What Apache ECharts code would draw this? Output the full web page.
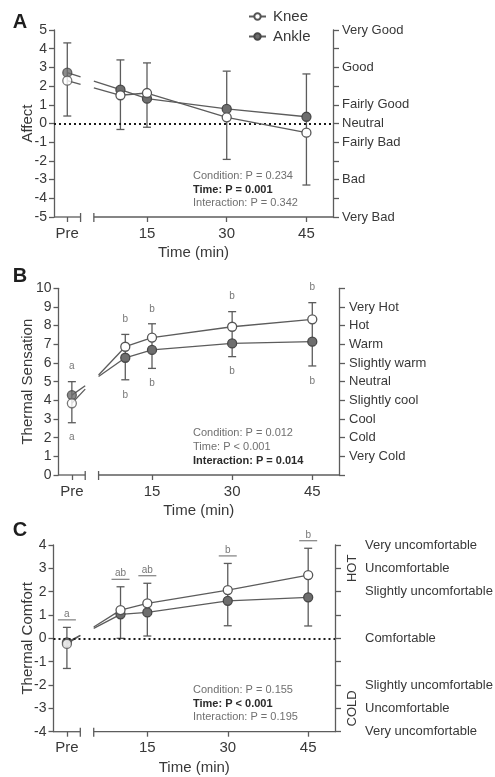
<!DOCTYPE html>
<html>
<head>
<meta charset="utf-8">
<script src="https://cdn.jsdelivr.net/npm/echarts@6/dist/echarts.min.js"></script>
<style>
html, body { margin: 0; padding: 0; background: #fff; }
#chart { width: 495px; height: 777px; }
</style>
</head>
<body>
<div id="chart"></div>
<script>
// time points in minutes, 0 = Pre
const times = [0, 10, 15, 30, 45]
const xTickValues = [0, 15, 30, 45]
const xTickLabels = ['Pre', '15', '30', '45']

// A - affect
const kneeAffect = [2.29, 1.51, 1.63, 0.33, -0.49]
const ankleAffect = [2.72, 1.81, 1.33, 0.78, 0.36]
const affectBarTop = [4.31, 3.40, 3.24, 2.80, 2.65]
const affectBarBottom = [0.40, -0.32, -0.20, -1.92, -3.29]
const affectScaleValues = [5, 3, 1, 0, -1, -3, -5]
const affectScaleLabels = ['Very Good', 'Good', 'Fairly Good', 'Neutral', 'Fairly Bad', 'Bad', 'Very Bad']
const affectStats = ['Condition: P = 0.234', 'Time: P = 0.001', 'Interaction: P = 0.342']

// B - thermal sensation
const kneeSensation = [3.84, 6.87, 7.36, 7.94, 8.34]
const ankleSensation = [4.28, 6.28, 6.70, 7.05, 7.14]
const sensationBarTop = [5.00, 7.53, 8.10, 8.75, 9.23]
const sensationBarBottom = [2.80, 5.10, 5.71, 6.34, 5.84]
const sensationLettersKnee = ['a', 'b', 'b', 'b', 'b']
const sensationLettersAnkle = ['a', 'b', 'b', 'b', 'b']
const sensationScaleValues = [9, 8, 7, 6, 5, 4, 3, 2, 1]
const sensationScaleLabels = ['Very Hot', 'Hot', 'Warm', 'Slightly warm', 'Neutral', 'Slightly cool', 'Cool', 'Cold', 'Very Cold']
const sensationStats = ['Condition: P = 0.012', 'Time: P < 0.001', 'Interaction: P = 0.014']

// C - thermal comfort
const kneeComfort = [-0.24, 1.21, 1.50, 2.07, 2.71]
const ankleComfort = [-0.17, 1.03, 1.11, 1.61, 1.76]
const comfortBarTop = [0.47, 2.21, 2.36, 3.21, 3.86]
const comfortBarBottom = [-1.29, 0.00, 0.10, 0.54, 0.53]
const comfortLetters = ['a', 'ab', 'ab', 'b', 'b']
const comfortScaleValues = [4, 3, 2, 0, -2, -3, -4]
const comfortScaleLabels = ['Very uncomfortable', 'Uncomfortable', 'Slightly uncomfortable', 'Comfortable', 'Slightly uncomfortable', 'Uncomfortable', 'Very uncomfortable']
const comfortStats = ['Condition: P = 0.155', 'Time: P < 0.001', 'Interaction: P = 0.195']

const fontFamily = '"Liberation Sans", Arial, sans-serif'
const axisColor = '#5c5c5c'
const textColor = '#383838'
const xMin = -2.5
const xMax = 50
const gapStart = 2.5 // broken x axis
const gapEnd = 5

const panels = [
  {
    letter: 'A', grid: { left: 54, top: 30, width: 279, height: 187 }, min: -5, max: 5,
    name: 'Affect', nameGap: 19, knee: kneeAffect, ankle: ankleAffect,
    top: affectBarTop, bottom: affectBarBottom,
    scaleValues: affectScaleValues, scaleLabels: affectScaleLabels, scaleMargin: 9,
    zeroLine: true, stats: affectStats, bold: 1, statsY: 176
  },
  {
    letter: 'B', grid: { left: 58.5, top: 288.3, width: 280.5, height: 186.7 }, min: 0, max: 10,
    name: 'Thermal Sensation', nameGap: 23.5, knee: kneeSensation, ankle: ankleSensation,
    top: sensationBarTop, bottom: sensationBarBottom,
    lettersAbove: sensationLettersKnee, lettersBelow: sensationLettersAnkle,
    scaleValues: sensationScaleValues, scaleLabels: sensationScaleLabels, scaleMargin: 10,
    zeroLine: false, stats: sensationStats, bold: 2, statsY: 433.3
  },
  {
    letter: 'C', grid: { left: 53.5, top: 545, width: 281.5, height: 186.7 }, min: -4, max: 4,
    name: 'Thermal Comfort', nameGap: 18.5, knee: kneeComfort, ankle: ankleComfort,
    top: comfortBarTop, bottom: comfortBarBottom, underlined: comfortLetters,
    scaleValues: comfortScaleValues, scaleLabels: comfortScaleLabels, scaleMargin: 30,
    zeroLine: true, stats: comfortStats, bold: 1, statsY: 690
  }
]

const lineStyle = { stroke: axisColor, lineWidth: 1.3 }
const kneeItem = { color: '#ffffff', borderColor: '#555555', borderWidth: 1.3 }
const ankleItem = { color: '#6e6e6e', borderColor: '#474747', borderWidth: 1.3 }

function letterText (text, x, y) {
  return {
    type: 'text',
    style: { text: text, x: x, y: y, fill: '#777', font: '10px ' + fontFamily, textAlign: 'center', textVerticalAlign: 'middle' }
  }
}

function errorBars (gi, p) {
  return {
    type: 'custom', xAxisIndex: gi, yAxisIndex: gi * 2, z: 2, silent: true,
    encode: { x: 0, y: [1, 2] },
    data: times.map((t, i) => [t, p.bottom[i], p.top[i]]),
    renderItem: function (params, api) {
      const i = params.dataIndex
      const hi = api.coord([api.value(0), api.value(2)])
      const lo = api.coord([api.value(0), api.value(1)])
      const x = hi[0]
      const kids = [
        { type: 'line', shape: { x1: x, y1: hi[1], x2: x, y2: lo[1] }, style: lineStyle },
        { type: 'line', shape: { x1: x - 4, y1: hi[1], x2: x + 4, y2: hi[1] }, style: lineStyle },
        { type: 'line', shape: { x1: x - 4, y1: lo[1], x2: x + 4, y2: lo[1] }, style: lineStyle }
      ]
      if (p.lettersAbove) kids.push(letterText(p.lettersAbove[i], x, hi[1] - 15))
      if (p.lettersBelow) kids.push(letterText(p.lettersBelow[i], x, lo[1] + 15))
      if (p.underlined) {
        kids.push({ type: 'line', shape: { x1: x - 9, y1: hi[1] - 7.5, x2: x + 9, y2: hi[1] - 7.5 }, style: { stroke: '#666', lineWidth: 1 } })
        kids.push(letterText(p.underlined[i], x, hi[1] - 13.5))
      }
      return { type: 'group', children: kids }
    }
  }
}

// Pre -> 10 min connection, interrupted where the x axis is broken
function preLink (gi, values, z) {
  return {
    type: 'custom', xAxisIndex: gi, yAxisIndex: gi * 2, z: z, silent: true,
    encode: { x: [0, 2], y: [1, 3] },
    data: [[times[0], values[0], times[1], values[1]]],
    renderItem: function (params, api) {
      const p0 = api.coord([api.value(0), api.value(1)])
      const p1 = api.coord([api.value(2), api.value(3)])
      const g0 = api.coord([gapStart, 0])[0]
      const g1 = api.coord([gapEnd, 0])[0]
      const at = x => p0[1] + (p1[1] - p0[1]) * (x - p0[0]) / (p1[0] - p0[0])
      return {
        type: 'group',
        children: [
          { type: 'line', shape: { x1: p0[0], y1: p0[1], x2: g0, y2: at(g0) }, style: lineStyle },
          { type: 'line', shape: { x1: g1, y1: at(g1), x2: p1[0], y2: p1[1] }, style: lineStyle }
        ]
      }
    }
  }
}

function axisSegments (gi, p) {
  return {
    type: 'custom', xAxisIndex: gi, yAxisIndex: gi * 2, z: 2, silent: true,
    encode: { x: [0, 1] },
    data: [[xMin, gapStart, 1], [gapEnd, xMax, 0]],
    renderItem: function (params, api) {
      const a = api.coord([api.value(0), p.min])
      const b = api.coord([api.value(1), p.min])
      const bx = api.value(2) ? b[0] : a[0]
      return {
        type: 'group',
        children: [
          { type: 'line', shape: { x1: a[0], y1: a[1], x2: b[0], y2: b[1] }, style: lineStyle },
          { type: 'line', shape: { x1: bx, y1: a[1] - 4, x2: bx, y2: a[1] + 5 }, style: lineStyle }
        ]
      }
    }
  }
}

function conditionSeries (gi, name, values, item, z) {
  return [
    {
      name: name, type: 'line', xAxisIndex: gi, yAxisIndex: gi * 2, z: z,
      data: times.slice(1).map((t, i) => [t, values[i + 1]]),
      symbol: 'circle', symbolSize: 9, showAllSymbol: true,
      lineStyle: { color: axisColor, width: 1.3 }, itemStyle: item,
      emphasis: { disabled: true }, silent: true
    },
    {
      type: 'scatter', xAxisIndex: gi, yAxisIndex: gi * 2, z: z,
      data: [[times[0], values[0]]],
      symbol: 'circle', symbolSize: 9, itemStyle: item,
      emphasis: { disabled: true }, silent: true
    }
  ]
}

const xAxes = []
const yAxes = []
const series = []
const graphic = []

panels.forEach(function (p, gi) {
  xAxes.push({
    gridIndex: gi, type: 'value', min: xMin, max: xMax,
    axisLine: { show: false, onZero: false },
    axisTick: { show: true, length: 5, customValues: xTickValues, lineStyle: { color: axisColor, width: 1.3 } },
    axisLabel: {
      customValues: xTickValues, fontSize: 15, color: textColor, margin: 9, fontFamily: fontFamily,
      formatter: v => xTickLabels[xTickValues.indexOf(v)]
    },
    splitLine: { show: false },
    name: 'Time (min)', nameLocation: 'middle', nameGap: 28.5, nameMoveOverlap: false,
    nameTextStyle: { fontSize: 15, color: textColor, fontFamily: fontFamily }
  })
  yAxes.push({
    gridIndex: gi, type: 'value', position: 'left', min: p.min, max: p.max, interval: 1,
    axisLine: { show: true, onZero: false, lineStyle: { color: axisColor, width: 1.3 } },
    axisTick: { show: true, length: 5, lineStyle: { color: axisColor, width: 1.3 } },
    axisLabel: { fontSize: 14, color: textColor, margin: 7, fontFamily: fontFamily },
    splitLine: { show: false },
    name: p.name, nameLocation: 'middle', nameGap: p.nameGap, nameMoveOverlap: false,
    nameTextStyle: { fontSize: 15, color: textColor, fontFamily: fontFamily }
  })
  yAxes.push({
    gridIndex: gi, type: 'value', position: 'right', min: p.min, max: p.max, interval: 1,
    axisLine: { show: true, onZero: false, lineStyle: { color: axisColor, width: 1.3 } },
    axisTick: { show: true, length: 6, lineStyle: { color: axisColor, width: 1.3 } },
    axisLabel: {
      customValues: p.scaleValues, fontSize: 13, color: textColor, margin: p.scaleMargin, fontFamily: fontFamily,
      formatter: v => p.scaleLabels[p.scaleValues.indexOf(v)]
    },
    splitLine: { show: false }
  })

  if (p.zeroLine) {
    series.push({
      type: 'line', xAxisIndex: gi, yAxisIndex: gi * 2, z: 1, data: [], silent: true,
      markLine: {
        silent: true, symbol: 'none', label: { show: false },
        lineStyle: { color: '#1a1a1a', width: 2, type: [2, 3] },
        data: [{ yAxis: 0 }]
      }
    })
  }
  series.push(axisSegments(gi, p))
  series.push(errorBars(gi, p))
  series.push(preLink(gi, p.ankle, 3))
  series.push(preLink(gi, p.knee, 3))
  conditionSeries(gi, 'Ankle', p.ankle, ankleItem, 4).forEach(s => series.push(s))
  conditionSeries(gi, 'Knee', p.knee, kneeItem, 5).forEach(s => series.push(s))

  graphic.push({
    type: 'text', x: 20, y: [22, 276, 530][gi],
    style: { text: p.letter, font: 'bold 20px ' + fontFamily, fill: '#1e1e1e', textAlign: 'center', textVerticalAlign: 'middle' }
  })
  p.stats.forEach(function (s, i) {
    const b = i === p.bold
    graphic.push({
      type: 'text', x: 193, y: p.statsY + i * 13.7,
      style: {
        text: s, font: (b ? 'bold ' : '') + '11px ' + fontFamily,
        fill: b ? '#2a2a2a' : '#707070', textVerticalAlign: 'middle'
      }
    })
  })
})

const chart = echarts.init(document.getElementById('chart'), null, { renderer: 'canvas' })
chart.setOption({
  animation: false,
  backgroundColor: '#ffffff',
  textStyle: { fontFamily: fontFamily },
  legend: {
    orient: 'vertical', left: 243, top: 4, itemWidth: 17, itemHeight: 8, itemGap: 5,
    data: ['Knee', 'Ankle'], selectedMode: false,
    textStyle: { fontSize: 15, color: textColor, fontFamily: fontFamily, padding: [0, 0, 0, 2] }
  },
  grid: panels.map(p => Object.assign({ containLabel: false, outerBoundsMode: 'none' }, p.grid)),
  xAxis: xAxes,
  yAxis: yAxes,
  series: series,
  graphic: graphic
})

// HOT / COLD brackets on the comfort scale
const hotY = chart.convertToPixel({ yAxisIndex: 5 }, 3)
const coldY = chart.convertToPixel({ yAxisIndex: 5 }, -3)
const scaleX = chart.convertToPixel({ xAxisIndex: 2 }, xMax)
chart.setOption({
  graphic: graphic.concat([
    { type: 'text', x: scaleX + 17, y: hotY, rotation: Math.PI / 2, style: { text: 'HOT', font: '13px ' + fontFamily, fill: textColor, textAlign: 'center', textVerticalAlign: 'middle' } },
    { type: 'text', x: scaleX + 17, y: coldY, rotation: Math.PI / 2, style: { text: 'COLD', font: '13px ' + fontFamily, fill: textColor, textAlign: 'center', textVerticalAlign: 'middle' } }
  ])
})
</script>
</body>
</html>
